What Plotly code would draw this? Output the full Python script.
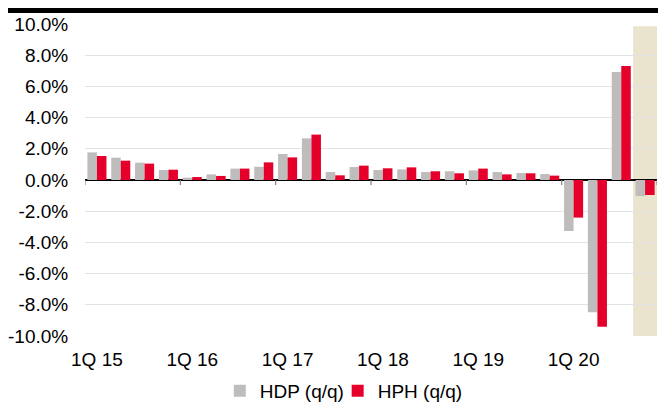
import plotly.graph_objects as go

# quarters 1Q 15 .. 4Q 20
quarters = [f"{q}Q {y}" for y in range(15, 21) for q in range(1, 5)]
year_labels = ["1Q 15", "1Q 16", "1Q 17", "1Q 18", "1Q 19", "1Q 20"]

hdp = [1.77, 1.43, 1.11, 0.64,
       0.15, 0.36, 0.73, 0.85,
       1.67, 2.67, 0.51, 0.83,
       0.64, 0.68, 0.51, 0.56,
       0.62, 0.51, 0.45, 0.38,
       -3.27, -8.48, 6.92, -1.03]
hph = [1.54, 1.24, 1.05, 0.66,
       0.19, 0.26, 0.73, 1.13,
       1.45, 2.91, 0.30, 0.92,
       0.75, 0.81, 0.56, 0.43,
       0.73, 0.36, 0.43, 0.28,
       -2.41, -9.40, 7.30, -0.96]

y_ticks = [10, 8, 6, 4, 2, 0, -2, -4, -6, -8, -10]
y_ticktext = ["10.0%", "8.0%", "6.0%", "4.0%", "2.0%", "0.0%",
              "-2.0%", "-4.0%", "-6.0%", "-8.0%", "-10.0%"]

GRAY = "#bfbcbc"
RED = "#e4002b"
FONT = "Liberation Sans, Arial, sans-serif"

fig = go.Figure()
fig.add_trace(go.Bar(x=quarters, y=hdp, name="HDP (q/q)", marker_color=GRAY,
                     marker_line_width=0, legend="legend"))
fig.add_trace(go.Bar(x=quarters, y=hph, name="HPH (q/q)", marker_color=RED,
                     marker_line_width=0, legend="legend2"))

# shaded forecast quarter
last = len(quarters) - 1
fig.add_shape(type="rect", xref="x", yref="y", x0=last - 0.5, x1=last + 0.5,
              y0=-10, y1=9.85, fillcolor="#eae3cd", line_width=0, layer="below")

# small ticks on the zero line at year boundaries
for i in range(0, len(quarters) + 1, 4):
    fig.add_shape(type="line", xref="x", yref="y", ysizemode="pixel", yanchor=0,
                  x0=i - 0.5, x1=i - 0.5, y0=0, y1=-5,
                  line=dict(color="#808080", width=1.2))

# thick black rule on top
fig.add_shape(type="line", xref="paper", yref="paper", x0=-0.2, x1=1.2,
              y0=1 + 13.5 / 312, y1=1 + 13.5 / 312,
              line=dict(color="black", width=5))

legend_style = dict(orientation="h", xref="container", xanchor="left",
                    yref="container", y=0.05, yanchor="middle",
                    bgcolor="rgba(0,0,0,0)", font=dict(size=19), itemwidth=30)

# page body has an 8px margin, so the margins are shifted by 8px
fig.update_layout(
    width=666, height=403,
    margin=dict(l=77, r=17, t=16, b=75, autoexpand=False),
    plot_bgcolor="white", paper_bgcolor="white",
    barmode="group", bargap=0.2, bargroupgap=0,
    font=dict(family=FONT, size=19, color="black"),
    showlegend=True,
    legend=dict(x=0.318, **legend_style),
    legend2=dict(x=0.495, **legend_style),
    xaxis=dict(
        type="category", range=[-0.5, len(quarters) - 0.5],
        tickvals=year_labels, ticktext=year_labels,
        ticks="outside", ticklen=6, tickcolor="rgba(0,0,0,0)",
        showgrid=False, showline=False, zeroline=False, automargin=False,
    ),
    yaxis=dict(
        range=[-10, 10], tickvals=y_ticks, ticktext=y_ticktext,
        ticks="outside", ticklen=12, tickcolor="rgba(0,0,0,0)",
        showgrid=True, gridcolor="#e3e3e3", gridwidth=1,
        zeroline=True, zerolinecolor="black", zerolinewidth=1.5,
        showline=False, automargin=False,
    ),
)

fig.write_html("out.html")
